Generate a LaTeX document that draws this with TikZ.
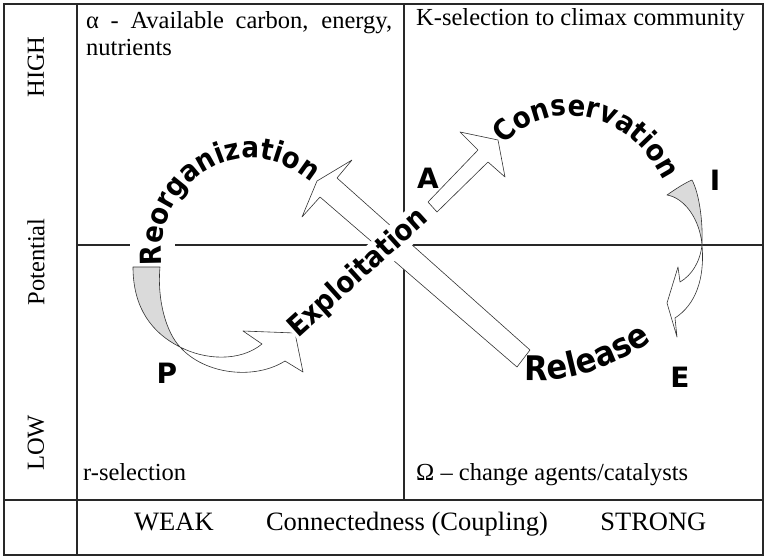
\documentclass[tikz,border=0pt]{standalone}
\usepackage{fontspec}
\setmainfont{Liberation Serif}
\newfontfamily\phasefont{DejaVu Sans}
\newfontfamily\narrowfont{DejaVu Sans Condensed}
\usepackage{tikz}
\usetikzlibrary{positioning, decorations.text}
\definecolor{gridLine}{RGB}{40, 40, 40}
\definecolor{twistGray}{RGB}{218, 218, 218}
\newcommand{\wordfont}{\narrowfont\bfseries\fontsize{29}{29}\selectfont}
\newcommand{\bigwordfont}{\narrowfont\bfseries\fontsize{34}{34}\selectfont}

\begin{document}
\begin{tikzpicture}[
    x=1pt, y=-1pt,
    grid/.style={draw=gridLine, line width=1.1pt},
    cell/.style={
        inner sep=0pt,
        font=\fontsize{24.5}{27.6}\selectfont
    },
    axis/.style={cell, font=\fontsize{26.5}{28}\selectfont},
    side/.style={cell, rotate=90},
    corner/.style={
        inner sep=0pt,
        font=\phasefont\bfseries\fontsize{28}{28}\selectfont
    },
    ribbon/.style={
        draw=black!80,
        fill=#1,
        line width=0.6pt,
        line join=round
    },
    ribbon/.default=white
]
    \useasboundingbox (0,0) rectangle (764,557);

    % Table
    \draw[grid] (4,4) rectangle (763,555);
    \draw[grid] (77,4) -- (77,555);
    \draw[grid] (4,500) -- (763,500);
    \draw[grid] (404,4) -- (404,500);
    \draw[grid] (77,245) -- (130,245);
    \draw[grid] (175,245) -- (763,245);

    % Side axis
    \node[side] (high) at (36,67) {HIGH};
    \node[side] (pot) at (36,262) {Potential};
    \node[side] (low) at (36,443) {LOW};

    % Cells
    \node[cell, anchor=north west, text width=306pt, align=justify] (alpha) at (86,11)
        {α - Available carbon, energy, nutrients};
    \node[cell, anchor=base west] (ksel) at (416,25) {K-selection to climax community};
    \node[cell, anchor=base west] (rsel) at (83,480) {r-selection};
    \node[cell, anchor=base west] (omega) at (416,480) {Ω – change agents/catalysts};

    % Bottom axis
    \node[axis, anchor=base] (conn) at (407,530) {Connectedness (Coupling)};
    \node[axis, base left=52pt of conn] (weak) {WEAK};
    \node[axis, base right=52pt of conn] (strong) {STRONG};

    % Back loop: release -> reorganization
    \draw[ribbon] (530,350) -- (337,178) -- (352,160) -- (317,181)
        -- (302,217) -- (320,197) -- (517,367) -- cycle;

    % Ribbon P
    \draw[ribbon=twistGray] (133,267) .. controls (133,308) and (152,333) .. (180,347)
        .. controls (166,332) and (157,300) .. (160,267) -- cycle;
    \draw[ribbon] (180,347) .. controls (205,360) and (240,362) .. (262,344)
        -- (243,331) -- (295,333) -- (303,372) -- (285,361)
        .. controls (255,380) and (205,375) .. (180,347) -- cycle;

    % Ribbon I
    \draw[ribbon=twistGray] (667,195) .. controls (677,188) and (685,183) .. (692,180)
        .. controls (700,195) and (703,225) .. (702,245)
        .. controls (700,220) and (685,198) .. (667,195) -- cycle;
    \draw[ribbon] (702,245) .. controls (700,262) and (692,275) .. (680,282)
        -- (678,267) -- (667,303) -- (677,337) -- (675,318)
        .. controls (695,305) and (705,280) .. (702,245) -- cycle;

    % Phase words
    \path[decorate, decoration={text along path, text align=left,
        text={|\wordfont|Reorganization}}]
        (162,265) .. controls (155,200) and (205,160) .. (245,158)
        .. controls (275,157) and (300,170) .. (325,195);
    \path[decorate, decoration={text along path, text align=left,
        text={|\wordfont|Conservation}}]
        (505,145) .. controls (525,120) and (555,112) .. (585,117)
        .. controls (622,123) and (655,152) .. (672,200);
    \path[decorate, decoration={text along path, text align=left,
        text={|\bigwordfont|Release}}]
        (525,380) .. controls (565,385) and (625,365) .. (668,328);
    \node[fill=white, inner sep=1pt, rotate=42, anchor=base, font=\wordfont] (exploit)
        at (364,279) {Exploitation};

    % Forward arrow exploitation -> conservation
    \draw[ribbon] (428,202) -- (478,150) -- (460,132) -- (498,140)
        -- (505,177) -- (488,162) -- (437,212) -- cycle;

    % Corner letters
    \node[corner] (lblA) at (428,178) {A};
    \node[corner] (lblI) at (715,180) {I};
    \node[corner] (lblP) at (167,373) {P};
    \node[corner] (lblE) at (680,377) {E};
\end{tikzpicture}
\end{document}
